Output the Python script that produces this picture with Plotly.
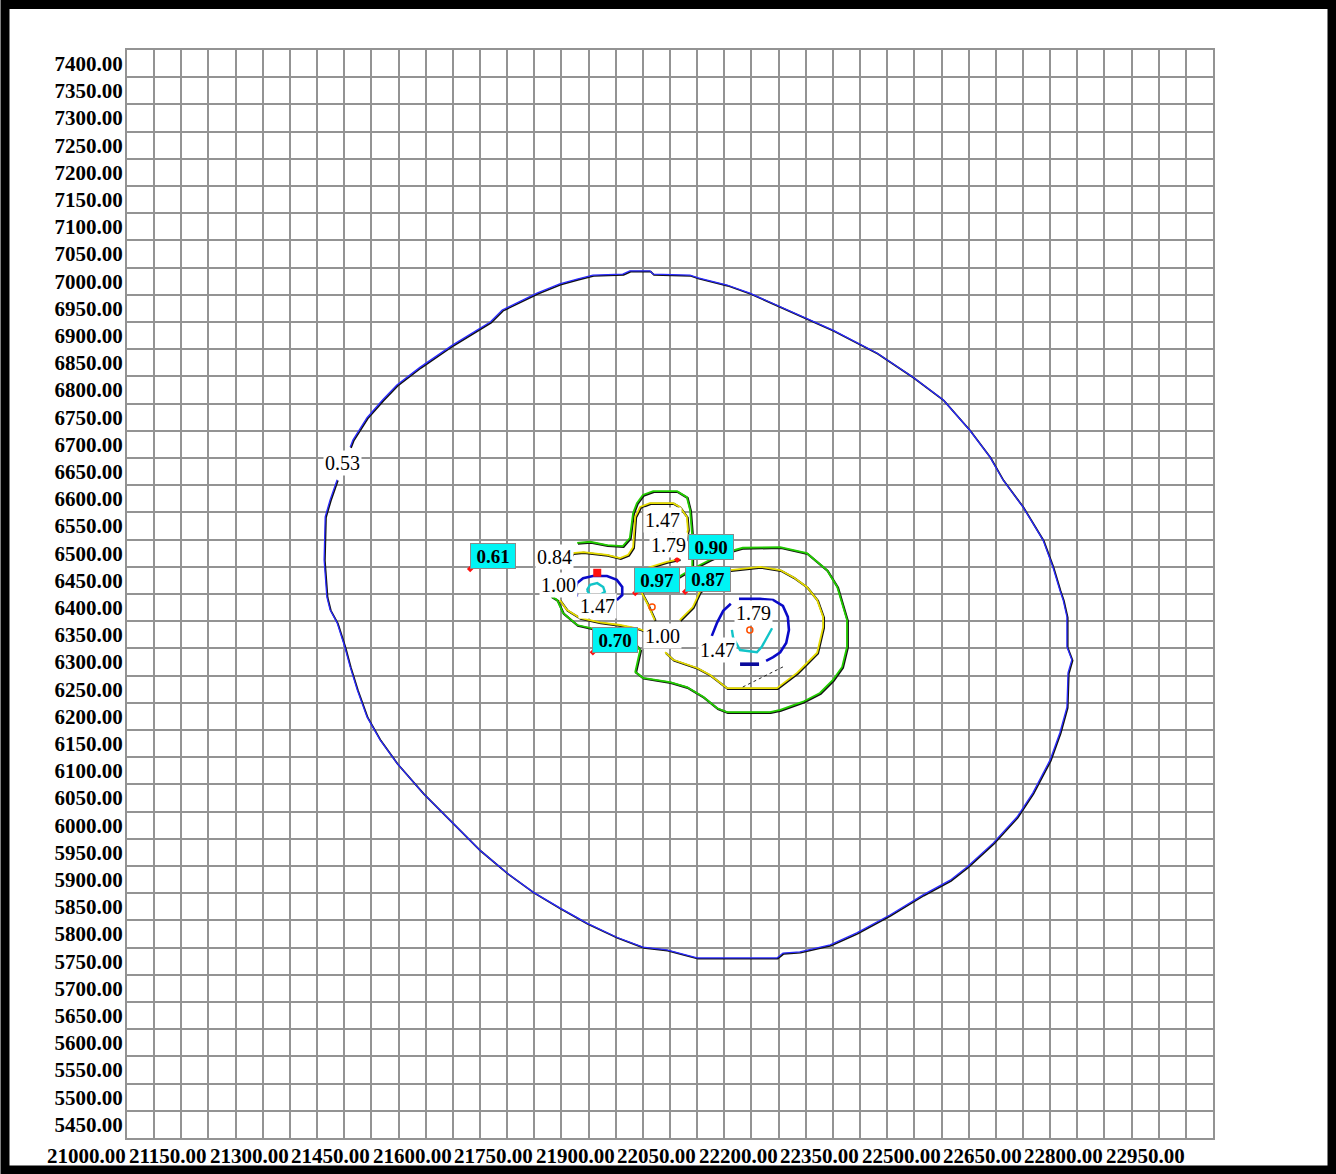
import plotly.graph_objects as go

# ---------------- data ----------------
x_tick_vals = [21000, 21150, 21300, 21450, 21600, 21750, 21900, 22050,
               22200, 22350, 22500, 22650, 22800, 22950]
x_tick_text = ["21000.00", "21150.00", "21300.00", "21450.00", "21600.00",
               "21750.00", "21900.00", "22050.00", "22200.00", "22350.00",
               "22500.00", "22650.00", "22800.00", "22950.00"]
y_tick_vals = [7400, 7350, 7300, 7250, 7200, 7150, 7100, 7050, 7000, 6950,
               6900, 6850, 6800, 6750, 6700, 6650, 6600, 6550, 6500, 6450,
               6400, 6350, 6300, 6250, 6200, 6150, 6100, 6050, 6000, 5950,
               5900, 5850, 5800, 5750, 5700, 5650, 5600, 5550, 5500, 5450]
y_tick_text = ["%.2f" % v for v in y_tick_vals]

# contour 0.53 (outer)
contour_053 = [
    (21387, 6635), (21374, 6598), (21365, 6567), (21363, 6488), (21368, 6420),
    (21374, 6396), (21387, 6372), (21401, 6328), (21411, 6291), (21424, 6249),
    (21442, 6199), (21466, 6157), (21497, 6114), (21545, 6059), (21600, 6004),
    (21650, 5954), (21700, 5912), (21748, 5877), (21797, 5848), (21847, 5820),
    (21902, 5794), (21950, 5776), (21994, 5771), (22050, 5756), (22197, 5756),
    (22208, 5765), (22239, 5767), (22295, 5780), (22344, 5802), (22405, 5835),
    (22466, 5872), (22516, 5899), (22547, 5923), (22595, 5967), (22639, 6015),
    (22668, 6059), (22700, 6120), (22718, 6170), (22731, 6217), (22733, 6280),
    (22740, 6304), (22731, 6328), (22731, 6383), (22724, 6414), (22718, 6432),
    (22705, 6475), (22687, 6524), (22650, 6585), (22613, 6635), (22589, 6677),
    (22552, 6726), (22503, 6782), (22447, 6824), (22381, 6868), (22300, 6910),
    (22245, 6934), (22147, 6978), (22105, 6993), (22068, 7002), (22052, 7006),
    (22037, 7011), (21969, 7013), (21963, 7019), (21926, 7019), (21913, 7013),
    (21858, 7011), (21829, 7004), (21797, 6995), (21755, 6978), (21691, 6947),
    (21669, 6925), (21600, 6883), (21540, 6842), (21497, 6809), (21471, 6782),
    (21442, 6749), (21416, 6708), (21411, 6695),
]

# contour 0.84 (green)
contour_084_north = [
    (21829, 6519), (21853, 6521), (21884, 6515), (21913, 6513), (21926, 6528),
    (21932, 6574), (21939, 6592), (21950, 6607), (21969, 6614), (22013, 6614),
    (22031, 6603), (22037, 6579), (22041, 6530), (22041, 6476),
]
contour_084_main = [
    (22007, 6451), (22037, 6469), (22074, 6488), (22105, 6502), (22134, 6510),
    (22203, 6511), (22252, 6500), (22289, 6469), (22308, 6438), (22319, 6401),
    (22326, 6377), (22326, 6328), (22317, 6291), (22300, 6267), (22276, 6243),
    (22245, 6227), (22203, 6212), (22184, 6208), (22105, 6208), (22087, 6215),
    (22061, 6236), (22031, 6254), (22000, 6263), (21950, 6271), (21936, 6282),
    (21941, 6304), (21945, 6322), (21926, 6346), (21895, 6353), (21858, 6361),
    (21829, 6368), (21803, 6390), (21792, 6414), (21781, 6421),
]

# contour 1.00 (yellow)
contour_100_north = [
    (21803, 6473), (21821, 6500), (21840, 6502), (21884, 6497), (21908, 6491),
    (21923, 6497), (21932, 6511), (21936, 6567), (21945, 6585), (21963, 6592),
    (22006, 6592), (22018, 6585), (22031, 6567), (22033, 6543), (22029, 6524),
]
contour_100_bay = [
    (22018, 6489), (21994, 6484), (21958, 6473), (21945, 6451), (21948, 6427),
    (21958, 6408), (21972, 6377),
]
contour_100_west = [
    (21797, 6414), (21810, 6396), (21834, 6381), (21871, 6373), (21908, 6368),
    (21939, 6362), (21954, 6357),
]
contour_100_east = [
    (21991, 6318), (22006, 6304), (22050, 6289), (22074, 6276), (22105, 6252),
    (22197, 6252), (22234, 6280), (22271, 6317), (22282, 6364), (22282, 6383),
    (22271, 6414), (22252, 6438), (22227, 6456), (22203, 6469), (22166, 6475),
    (22111, 6469), (22079, 6451), (22055, 6429), (22042, 6401), (22018, 6377),
]

# contour 1.47 (blue)
contour_147_west = [
    (21829, 6420), (21825, 6432), (21829, 6445), (21840, 6454), (21858, 6458),
    (21884, 6458), (21902, 6451), (21912, 6438), (21912, 6423), (21902, 6414),
]
contour_147_east_a = [(22077, 6348), (22087, 6373), (22098, 6394), (22112, 6407)]
contour_147_east_b = [
    (22127, 6416), (22166, 6416), (22190, 6414), (22208, 6403), (22217, 6383),
    (22219, 6359), (22214, 6335), (22203, 6318), (22190, 6309), (22177, 6302),
]
contour_147_east_c = [(22129, 6296), (22164, 6296)]

# contour 1.79 (cyan)
contour_179_west = [
    (21847, 6432), (21853, 6442), (21866, 6445), (21877, 6438), (21880, 6429),
    (21871, 6423), (21853, 6423), (21847, 6432),
]
contour_179_east = [
    (22114, 6359), (22116, 6346), (22129, 6322), (22160, 6318), (22169, 6328),
    (22184, 6355), (22188, 6362),
]
contour_179_north = [(21974, 6533), (21978, 6544), (21991, 6550), (22004, 6544), (22007, 6533)]

thin_line_east = [(22134, 6254), (22208, 6291)]
thin_line_north = [(21965, 6532), (21965, 6511)]

# contour labels (white)
contour_labels = [
    ("0.53", 21396, 6666), ("0.84", 21788, 6493), ("1.00", 21794, 6442),
    ("1.47", 21867, 6403), ("1.47", 21987, 6561), ("1.00", 21987, 6348),
    ("1.79", 22153, 6390), ("1.47", 22088, 6322),
]
north_179_label = ("1.79", 21998, 6515)

# sample values (cyan boxes)
sample_labels = [
    ("0.61", 21674, 6495), ("0.70", 21899, 6340), ("0.97", 21976, 6451),
    ("0.90", 22076, 6511), ("0.87", 22070, 6453),
]
sample_pts_x = [21632, 21858, 21936, 22028, 22013]
sample_pts_y = [6471, 6318, 6427, 6429, 6488]
ring_pts_x = [21967, 22147]
ring_pts_y = [6401, 6359]
square_pt = (21866, 6464)

# ---------------- figure ----------------
fig = go.Figure()

PX = 50 / 27.15  # data units per pixel (x)
PY = 50 / 27.2   # data units per pixel (y)


def add_line(pts, color, width, shadow=True, dash=None):
    xs = [p[0] for p in pts]
    ys = [p[1] for p in pts]
    if shadow:
        fig.add_trace(go.Scatter(
            x=[v + 0.8 * PX for v in xs], y=[v - 0.8 * PY for v in ys],
            mode="lines", line=dict(color="#111111", width=width + 0.4),
            hoverinfo="skip", showlegend=False))
    fig.add_trace(go.Scatter(
        x=xs, y=ys, mode="lines",
        line=dict(color=color, width=width, dash=dash),
        hoverinfo="skip", showlegend=False))


add_line(contour_053, "#2a2aff", 1.3)
for seg in (contour_084_north, contour_084_main):
    add_line(seg, "#22cc00", 1.8)
for seg in (contour_100_north, contour_100_bay, contour_100_west, contour_100_east):
    add_line(seg, "#e6dc00", 1.8)
for seg in (contour_147_west, contour_147_east_a, contour_147_east_b):
    add_line(seg, "#0a0ac8", 2.6, shadow=False)
add_line(contour_147_east_c, "#0a0a9c", 3.6, shadow=False)
for seg in (contour_179_west, contour_179_east):
    add_line(seg, "#12c4c8", 2.4, shadow=False)
add_line(contour_179_north, "#128c8c", 1.5, shadow=False, dash="dot")
add_line(thin_line_east, "#222222", 1.0, shadow=False, dash="dot")
add_line(thin_line_north, "#222222", 1.0, shadow=False)

fig.add_trace(go.Scatter(
    x=sample_pts_x, y=sample_pts_y, mode="markers",
    marker=dict(symbol="diamond", size=5, color="#ff1010"),
    hoverinfo="skip", showlegend=False))
fig.add_trace(go.Scatter(
    x=ring_pts_x, y=ring_pts_y, mode="markers",
    marker=dict(symbol="circle-open", size=6, color="#ff5000", line=dict(width=1.5)),
    hoverinfo="skip", showlegend=False))
fig.add_trace(go.Scatter(
    x=[square_pt[0]], y=[square_pt[1]], mode="markers",
    marker=dict(symbol="square", size=8, color="#ff1010"),
    hoverinfo="skip", showlegend=False))

annotations = []
for txt, x, y in sample_labels:
    annotations.append(dict(
        x=x, y=y, xref="x", yref="y", text=txt, showarrow=False,
        font=dict(family="Liberation Serif", size=19, color="#000000", weight="bold"),
        bgcolor="#00f4f4", bordercolor="#8a8a8a", borderwidth=1, borderpad=1,
        width=42, height=22))
for txt, x, y in contour_labels + [north_179_label]:
    annotations.append(dict(
        x=x, y=y, xref="x", yref="y", text=txt, showarrow=False,
        font=dict(family="Liberation Serif", size=20, color="#000000"),
        bgcolor="#ffffff", borderpad=1))
for v, t in zip(x_tick_vals, x_tick_text):
    annotations.append(dict(
        x=v, y=0, xref="x", yref="paper", text=t, showarrow=False,
        xanchor="right", yanchor="top", yshift=-4, xshift=1,
        font=dict(family="Liberation Serif", size=21, color="#000000", weight="bold")))

grid_color = "#939393"
fig.update_layout(
    width=1336, height=1174,
    margin=dict(l=127, r=123, t=50, b=36, pad=0),
    paper_bgcolor="#ffffff", plot_bgcolor="#ffffff",
    showlegend=False,
    annotations=annotations,
    xaxis=dict(range=[21000, 23000], tick0=21000, dtick=50, showgrid=True,
               gridcolor=grid_color, gridwidth=2, showticklabels=False,
               ticks="", zeroline=False, showline=True, mirror=True,
               linecolor=grid_color, linewidth=2, fixedrange=True),
    yaxis=dict(range=[5425, 7425], tickmode="array", tickvals=y_tick_vals,
               ticktext=y_tick_text, showgrid=False, ticks="",
               ticklabelstandoff=-2,
               tickfont=dict(family="Liberation Serif", size=21, color="#000000", weight="bold"),
               minor=dict(tick0=5425, dtick=50, showgrid=True, gridcolor=grid_color,
                          gridwidth=2, ticks=""),
               zeroline=False, showline=True, mirror=True,
               linecolor=grid_color, linewidth=2, fixedrange=True),
    shapes=[dict(type="rect", xref="paper", yref="paper",
                 x0=(5 - 127) / 1086, x1=(1332 - 127) / 1086,
                 y0=(1138 - 1170) / 1088, y1=(1138 - 4.5) / 1088,
                 line=dict(color="#000000", width=9), fillcolor="rgba(0,0,0,0)",
                 layer="above")],
)

fig.write_html(
    "out.html",
    config={"displayModeBar": False},
    post_script="document.body.style.margin='0';document.body.style.overflow='hidden';",
)
